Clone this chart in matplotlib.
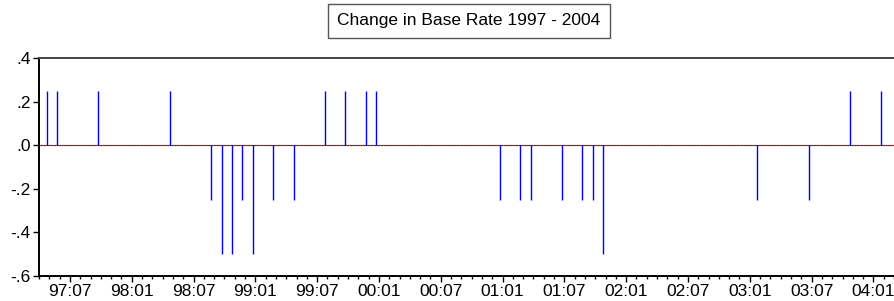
import matplotlib
matplotlib.use("Agg")
import matplotlib.pyplot as plt

# Cambios en el tipo base (mes, variación)
fechas = ["1997-05", "1997-06", "1997-10", "1998-05", "1998-09", "1998-10",
          "1998-11", "1998-12", "1999-01", "1999-03", "1999-05", "1999-08",
          "1999-10", "1999-12", "2000-01", "2001-01", "2001-03", "2001-04",
          "2001-07", "2001-09", "2001-10", "2001-11", "2003-02", "2003-07",
          "2003-11", "2004-02"]
cambios = [0.25, 0.25, 0.25, 0.25, -0.25, -0.5,
           -0.5, -0.25, -0.5, -0.25, -0.25, 0.25,
           0.25, 0.25, 0.25, -0.25, -0.25, -0.25,
           -0.25, -0.25, -0.25, -0.5, -0.25, -0.25,
           0.25, 0.25]

etiquetas_x = ["97:07", "98:01", "98:07", "99:01", "99:07", "00:01", "00:07",
               "01:01", "01:07", "02:01", "02:07", "03:01", "03:07", "04:01"]
valores_y = [0.4, 0.2, 0.0, -0.2, -0.4, -0.6]
etiquetas_y = [".4", ".2", ".0", "-.2", "-.4", "-.6"]


def indice_mes(anio, mes):
    # meses desde enero de 1997
    return (anio - 1997) * 12 + (mes - 1)


x = [indice_mes(int(f[:4]), int(f[5:])) for f in fechas]

def pos_etiqueta(e):
    a = int(e[:2])
    anio = 1900 + a if a > 50 else 2000 + a
    return indice_mes(anio, int(e[3:])) + 0.26

plt.rcParams["font.family"] = ["Liberation Sans", "DejaVu Sans"]

fig = plt.figure(figsize=(8.94, 3.01), dpi=100)
ax = fig.add_axes([39 / 894, 0.084, 858 / 894, 0.722])

ax.vlines(x, 0, cambios, color="#0000FF", lw=1.0)
ax.axhline(0, color="#333333", lw=0.8, zorder=1)
ax.axhline(0, color="#cc3333", lw=0.8, ls=(0, (1, 2)), zorder=1.1)

ax.set_xlim(3.68, 86.55)
ax.set_ylim(-0.6, 0.4)

ax.set_xticks([pos_etiqueta(e) for e in etiquetas_x])
ax.set_xticklabels(etiquetas_x)
ax.set_xticks([m + 0.26 for m in range(3, 87)], minor=True)
ax.set_yticks(valores_y)
ax.set_yticklabels(etiquetas_y)

ax.tick_params(axis="x", which="major", length=4, width=1, pad=2, labelsize=12.5)
ax.tick_params(axis="x", which="minor", length=2, width=1)
ax.tick_params(axis="y", which="major", length=4.5, width=1, pad=1.5, labelsize=12.5)

ax.spines["left"].set_linewidth(1.4)
ax.spines["bottom"].set_linewidth(1.4)
ax.spines["top"].set_linewidth(1.4)
ax.spines["top"].set_color("#444444")
ax.spines["right"].set_visible(False)

fig.text(469 / 894, 0.931, "Change in Base Rate 1997 - 2004", fontsize=12.5,
         ha="center", va="center",
         bbox=dict(boxstyle="square,pad=0.55", fc="white", ec="#555555", lw=1))

fig.savefig("out.png", dpi=100)
